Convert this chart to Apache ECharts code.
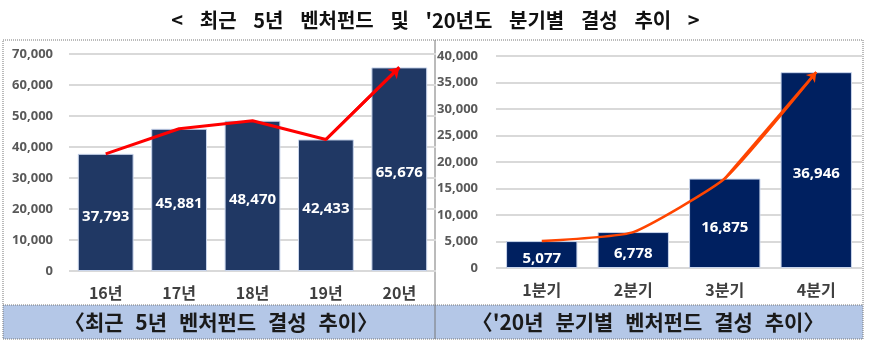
<!DOCTYPE html>
<html>
<head>
<meta charset="utf-8">
<script src="https://cdn.jsdelivr.net/npm/echarts@6/dist/echarts.min.js"></script>
<style>
html,body{margin:0;padding:0;background:#fff;}
#main{width:871px;height:344px;}
</style>
</head>
<body>
<div id="main"></div>
<script>
const mainTitle = "< 최근 5년 벤처펀드 및 '20년도 분기별 결성 추이 >";
const leftCaption = "〈최근 5년 벤처펀드 결성 추이〉";
const rightCaption = "〈'20년 분기별 벤처펀드 결성 추이〉";

const yearCats = ['16년', '17년', '18년', '19년', '20년'];
const yearValues = [37793, 45881, 48470, 42433, 65676];
const yearMax = 70000;
const yearStep = 10000;

const quarterCats = ['1분기', '2분기', '3분기', '4분기'];
const quarterValues = [5077, 6778, 16875, 36946];
const quarterMax = 40000;
const quarterStep = 5000;

// wider word spacing, as in the original document
const wideTitle = s => s.replace(/ /g, '\u2002\u2004');
const wideCap = s => s.replace(/ /g, '\u2002\u200A');

const chart = echarts.init(document.getElementById('main'), null, {renderer: 'canvas'});

const yLabel = {fontFamily: 'Noto Sans', fontWeight: 'bold', fontSize: 13, color: '#595959'};
const xLabel = {fontFamily: 'Noto Sans CJK KR', fontWeight: 'bold', fontSize: 16, color: '#404040'};
const split = {show: true, lineStyle: {color: '#d9d9d9', width: 2}};
const barLabel = {show: true, position: 'inside', offset: [0, 4], color: '#ffffff',
  fontFamily: 'Noto Sans', fontWeight: 'bold', fontSize: 15,
  formatter: p => p.value.toLocaleString('en-US')};

const dotted = {stroke: '#777', lineWidth: 1, lineDash: [1, 1]};

chart.setOption({
  animation: false,
  title: [{
    text: wideTitle(mainTitle), left: 'center', top: 5,
    textStyle: {fontFamily: 'Noto Sans CJK KR', fontWeight: 'bold', fontSize: 20, color: '#111'}
  }],
  grid: [
    {left: 69, top: 54, width: 367, height: 217},
    {left: 496, top: 56, width: 366, height: 212}
  ],
  xAxis: [
    {type: 'category', gridIndex: 0, data: yearCats, axisLine: {show: false}, axisTick: {show: false},
      axisLabel: Object.assign({margin: 14}, xLabel)},
    {type: 'category', gridIndex: 1, data: quarterCats, axisLine: {show: false}, axisTick: {show: false},
      axisLabel: Object.assign({margin: 14}, xLabel)}
  ],
  yAxis: [
    {type: 'value', gridIndex: 0, min: 0, max: yearMax, interval: yearStep, axisLine: {show: false},
      axisTick: {show: false}, splitLine: split,
      axisLabel: Object.assign({margin: 16, formatter: v => v.toLocaleString('en-US')}, yLabel)},
    {type: 'value', gridIndex: 1, min: 0, max: quarterMax, interval: quarterStep, axisLine: {show: false},
      axisTick: {show: false}, splitLine: split,
      axisLabel: Object.assign({margin: 18, formatter: v => v.toLocaleString('en-US')}, yLabel)}
  ],
  series: [
    {type: 'bar', xAxisIndex: 0, yAxisIndex: 0, data: yearValues, barCategoryGap: '24%',
      itemStyle: {color: '#203864', borderColor: '#c9d5ec', borderWidth: 1}, label: barLabel},
    {type: 'line', xAxisIndex: 0, yAxisIndex: 0, data: yearValues, symbol: 'none',
      lineStyle: {color: '#ff0000', width: 3}, z: 5,
      markLine: {silent: true, symbol: ['none', 'arrow'], symbolSize: 10, label: {show: false},
        lineStyle: {color: '#ff0000', width: 3, type: 'solid'},
        data: [[{coord: [yearCats.length - 2, yearValues[yearValues.length - 2]]},
                {coord: [yearCats.length - 1, yearValues[yearValues.length - 1]]}]]}},
    {type: 'bar', xAxisIndex: 1, yAxisIndex: 1, data: quarterValues, barCategoryGap: '22%',
      itemStyle: {color: '#002060', borderColor: '#c9d5ec', borderWidth: 1}, label: barLabel},
    {type: 'line', xAxisIndex: 1, yAxisIndex: 1, data: quarterValues, symbol: 'none', smooth: 0.15,
      lineStyle: {color: '#ff4500', width: 2.5}, z: 5,
      markLine: {silent: true, symbol: ['none', 'arrow'], symbolSize: 9, label: {show: false},
        lineStyle: {color: '#ff4500', width: 2.5, type: 'solid'},
        data: [[{coord: [quarterCats.length - 2, quarterValues[quarterValues.length - 2]]},
                {coord: [quarterCats.length - 1, quarterValues[quarterValues.length - 1]]}]]}}
  ],
  graphic: [
    {type: 'rect', shape: {x: 3, y: 305, width: 432, height: 34}, style: {fill: '#b4c7e7'}, z: -10},
    {type: 'rect', shape: {x: 435, y: 305, width: 428, height: 34}, style: {fill: '#b4c7e7'}, z: -10},
    {type: 'rect', shape: {x: 3, y: 40, width: 432, height: 299}, style: Object.assign({fill: null}, dotted)},
    {type: 'rect', shape: {x: 435, y: 40, width: 428, height: 299}, style: Object.assign({fill: null}, dotted)},
    {type: 'line', shape: {x1: 3, y1: 305, x2: 863, y2: 305}, style: dotted},
    {type: 'text', x: 221, y: 322, style: {text: wideCap(leftCaption), fill: '#1a1a1a', align: 'center', verticalAlign: 'middle',
      fontFamily: 'Noto Sans CJK KR', fontWeight: 'bold', fontSize: 21}},
    {type: 'text', x: 648, y: 322, style: {text: wideCap(rightCaption), fill: '#1a1a1a', align: 'center', verticalAlign: 'middle',
      fontFamily: 'Noto Sans CJK KR', fontWeight: 'bold', fontSize: 21}}
  ]
});
</script>
</body>
</html>
